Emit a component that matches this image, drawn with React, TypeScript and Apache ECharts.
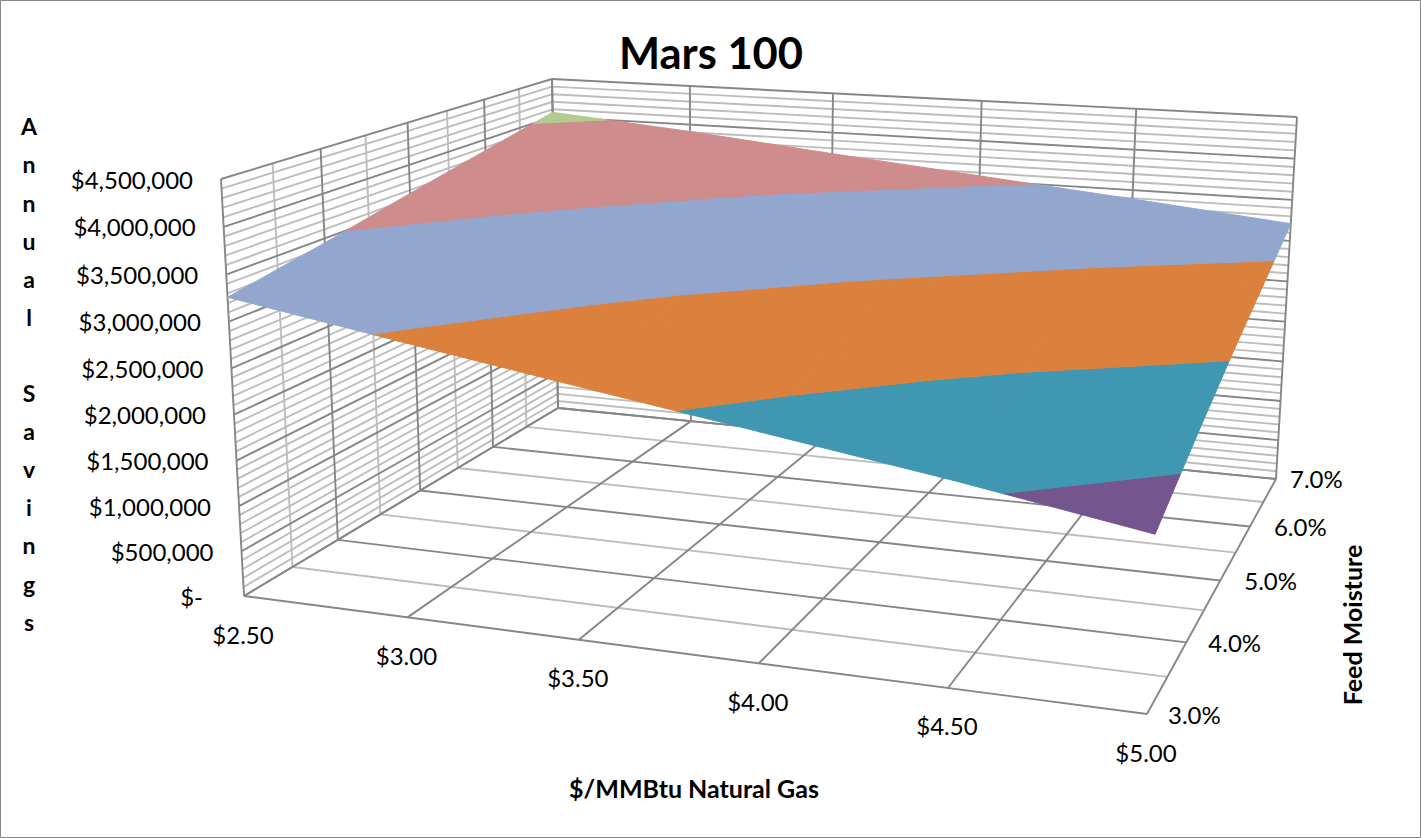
import React, { useEffect, useRef } from "react";
import * as echarts from "echarts";

const GAS_PRICES = [2.5, 3.0, 3.5, 4.0, 4.5, 5.0];
const GAS_LABELS = ["$2.50", "$3.00", "$3.50", "$4.00", "$4.50", "$5.00"];
const MOISTURE = [3, 4, 5, 6, 7];
const MOISTURE_LABELS = ["3.0%", "4.0%", "5.0%", "6.0%", "7.0%"];
const SAVINGS_TICKS = [0, 500000, 1000000, 1500000, 2000000, 2500000, 3000000, 3500000, 4000000, 4500000];
const SAVINGS_LABELS = ["$-", "$500,000", "$1,000,000", "$1,500,000", "$2,000,000", "$2,500,000", "$3,000,000", "$3,500,000", "$4,000,000", "$4,500,000"];
const SAVINGS_3PCT = [3260000, 2955000, 2660000, 2370000, 2080000, 1760000];
const SAVINGS_4PCT = [3450000, 3180000, 2905000, 2650000, 2400000, 2155000];
const SAVINGS_5PCT = [3660000, 3420000, 3170000, 2950000, 2730000, 2530000];
const SAVINGS_6PCT = [3860000, 3660000, 3450000, 3260000, 3060000, 2870000];
const SAVINGS_7PCT = [4060000, 3910000, 3730000, 3560000, 3390000, 3210000];
const SAVINGS = [SAVINGS_3PCT, SAVINGS_4PCT, SAVINGS_5PCT, SAVINGS_6PCT, SAVINGS_7PCT];
const BAND_COLORS = ["#92A6CE", "#CE8C8C", "#B3CB8F", "#74558E", "#4097B1", "#DB813D", "#92A6CE", "#CE8C8C", "#B3CB8F"];

const W = 1421;
const H = 838;
const Z_MAX = 4500000;
const Z_PERSPECTIVE = 0.04;
const MAJOR = "#868686";
const MINOR = "#BDBDBD";
const FONT = "Lato";

type P = [number, number];
function homography(p0: P, p1: P, p2: P, p3: P) {
  const dx1 = p1[0] - p2[0], dx2 = p3[0] - p2[0], sx = p0[0] - p1[0] + p2[0] - p3[0];
  const dy1 = p1[1] - p2[1], dy2 = p3[1] - p2[1], sy = p0[1] - p1[1] + p2[1] - p3[1];
  const den = dx1 * dy2 - dx2 * dy1;
  const g = (sx * dy2 - dx2 * sy) / den;
  const h = (dx1 * sy - sx * dy1) / den;
  const a = p1[0] - p0[0] + g * p1[0], b = p3[0] - p0[0] + h * p3[0];
  const d = p1[1] - p0[1] + g * p1[1], e = p3[1] - p0[1] + h * p3[1];
  return (s: number, t: number): P => {
    const w = g * s + h * t + 1;
    return [(a * s + b * t + p0[0]) / w, (d * s + e * t + p0[1]) / w];
  };
}
// Camera of the 3-D box: floor and ceiling of the plot box on screen.
const floorMap = homography([244, 596], [1147, 714], [1276, 479], [558, 408]);
const ceilMap = homography([221, 179], [1168, 243], [1297, 117], [552, 79]);
function project(gas: number, moist: number, z: number): P {
  const s = (gas - 2.5) / 2.5, t = (moist - 3) / 4, r = z / Z_MAX;
  const k = r / (1 + Z_PERSPECTIVE * (1 - r));
  const f = floorMap(s, t), c = ceilMap(s, t);
  return [f[0] + (c[0] - f[0]) * k, f[1] + (c[1] - f[1]) * k];
}

type V = [number, number, number];
function clip(poly: V[], level: number, keepAbove: boolean): V[] {
  const out: V[] = [];
  for (let i = 0; i < poly.length; i++) {
    const a = poly[i], b = poly[(i + 1) % poly.length];
    const ain = keepAbove ? a[2] >= level : a[2] <= level;
    const bin = keepAbove ? b[2] >= level : b[2] <= level;
    if (ain) out.push(a);
    if (ain !== bin) {
      const r = (level - a[2]) / (b[2] - a[2]);
      out.push([a[0] + (b[0] - a[0]) * r, a[1] + (b[1] - a[1]) * r, level]);
    }
  }
  return out;
}

// [gasFrom, moistFrom, zFrom, gasTo, moistTo, zTo, isMajor]
const gridSegments: number[][] = [];
const GAS_MIN = GAS_PRICES[0], GAS_END = GAS_PRICES[GAS_PRICES.length - 1];
const M_MIN = MOISTURE[0], M_END = MOISTURE[MOISTURE.length - 1];
for (let z = 0; z <= Z_MAX; z += 100000) {
  const major = z % 500000 === 0 ? 1 : 0;
  gridSegments.push([GAS_MIN, M_MIN, z, GAS_MIN, M_END, z, major]);
  gridSegments.push([GAS_MIN, M_END, z, GAS_END, M_END, z, major]);
}
for (let m = M_MIN; m <= M_END; m += 0.5) {
  const major = Number.isInteger(m) ? 1 : 0;
  gridSegments.push([GAS_MIN, m, 0, GAS_MIN, m, Z_MAX, major]);
  gridSegments.push([GAS_MIN, m, 0, GAS_END, m, 0, major]);
}
for (const g of GAS_PRICES) {
  gridSegments.push([g, M_END, 0, g, M_END, Z_MAX, 1]);
  gridSegments.push([g, M_MIN, 0, g, M_END, 0, 1]);
}
gridSegments.sort((a, b) => a[6] - b[6]);

const cells: number[][] = [];
for (let r = 0; r < MOISTURE.length - 1; r++) for (let c = 0; c < GAS_PRICES.length - 1; c++) cells.push([c, r]);

const MOIST_LABEL_DX = [21, 22, 24, 24, 14];
const MOIST_LABEL_DY = [0, 0, 0, 0, -1];

export default function App() {
  const ref = useRef<HTMLDivElement>(null);
  useEffect(() => {
    const chart = echarts.init(ref.current!, undefined, { renderer: "svg" });
    const labelFont = `24px ${FONT}`;
    const boldFont = `bold 25px ${FONT}`;
    chart.setOption({
      animation: false,
      backgroundColor: "#fff",
      title: {
        text: "Mars 100", left: 706, top: 25, textAlign: "center",
        textStyle: { fontFamily: FONT, fontWeight: "bold", fontSize: 43.5, color: "#000" },
      },
      grid: { left: 0, right: 0, top: 0, bottom: 0 },
      xAxis: { type: "value", min: 0, max: W, show: false },
      yAxis: { type: "value", min: 0, max: H, inverse: true, show: false },
      graphic: [
        { type: "rect", shape: { x: 0.5, y: 0.5, width: W - 1, height: H - 1 }, style: { fill: "none", stroke: MAJOR, lineWidth: 1 }, z: 0 },
        { type: "text", x: 29, y: 374, style: { text: "A\nn\nn\nu\na\nl\n \nS\na\nv\ni\nn\ng\ns", align: "center", verticalAlign: "middle", lineHeight: 38.1, font: `bold 23px ${FONT}`, fill: "#000" } },
        { type: "text", x: 694, y: 788, style: { text: "$/MMBtu Natural Gas", align: "center", verticalAlign: "middle", font: boldFont, fill: "#000" } },
        { type: "text", x: 1352, y: 625, rotation: Math.PI / 2, style: { text: "Feed Moisture", align: "center", verticalAlign: "middle", font: boldFont, fill: "#000" } },
      ],
      series: [
        {
          type: "custom", name: "grid", coordinateSystem: "cartesian2d", silent: true,
          data: gridSegments.map((_, i) => [i, 0]), encode: { x: 0, y: 1 },
          renderItem: (_: any, api: any) => {
            const sg = gridSegments[api.value(0)];
            const a = api.coord(project(sg[0], sg[1], sg[2]));
            const b = api.coord(project(sg[3], sg[4], sg[5]));
            return {
              type: "line",
              shape: { x1: a[0], y1: a[1], x2: b[0], y2: b[1] },
              style: { stroke: sg[6] ? MAJOR : MINOR, lineWidth: 1.9 },
            };
          },
        },
        {
          type: "custom", name: "surface", coordinateSystem: "cartesian2d", silent: true,
          data: cells, encode: { x: 0, y: 1 },
          renderItem: (_: any, api: any) => {
            const c = api.value(0), r = api.value(1);
            const corner = (ci: number, ri: number): V => [GAS_PRICES[ci], MOISTURE[ri], SAVINGS[ri][ci]];
            const q00 = corner(c, r), q10 = corner(c + 1, r), q11 = corner(c + 1, r + 1), q01 = corner(c, r + 1);
            const children: any[] = [];
            for (const tri of [[q00, q10, q11], [q00, q11, q01]] as V[][]) {
              BAND_COLORS.forEach((color, b) => {
                let poly = clip(tri, b * 500000, true);
                if (poly.length) poly = clip(poly, (b + 1) * 500000, false);
                if (poly.length < 3) return;
                children.push({
                  type: "polygon",
                  shape: { points: poly.map((v) => api.coord(project(v[0], v[1], v[2]))) },
                  style: { fill: color, stroke: color, lineWidth: 1 },
                });
              });
            }
            return { type: "group", children };
          },
        },
        {
          type: "custom", name: "savingsLabels", coordinateSystem: "cartesian2d", silent: true,
          data: SAVINGS_TICKS.map((_, i) => [i, 0]), encode: { x: 0, y: 1 },
          renderItem: (_: any, api: any) => {
            const i = api.value(0);
            const p = api.coord(project(GAS_MIN, M_MIN, SAVINGS_TICKS[i]));
            return { type: "text", style: { text: SAVINGS_LABELS[i], x: p[0] - (i === 0 ? 41 : 28), y: p[1], align: "right", verticalAlign: "middle", font: labelFont, fill: "#000" } };
          },
        },
        {
          type: "custom", name: "gasLabels", coordinateSystem: "cartesian2d", silent: true,
          data: GAS_PRICES.map((_, i) => [i, 0]), encode: { x: 0, y: 1 },
          renderItem: (_: any, api: any) => {
            const i = api.value(0);
            const p = api.coord(project(GAS_PRICES[i], M_MIN, 0));
            return { type: "text", style: { text: GAS_LABELS[i], x: p[0] - 1, y: p[1] + 38, align: "center", verticalAlign: "middle", font: labelFont, fill: "#000" } };
          },
        },
        {
          type: "custom", name: "moistureLabels", coordinateSystem: "cartesian2d", silent: true,
          data: MOISTURE.map((_, i) => [i, 0]), encode: { x: 0, y: 1 },
          renderItem: (_: any, api: any) => {
            const i = api.value(0);
            const p = api.coord(project(GAS_END, MOISTURE[i], 0));
            return { type: "text", style: { text: MOISTURE_LABELS[i], x: p[0] + MOIST_LABEL_DX[i], y: p[1] + MOIST_LABEL_DY[i], align: "left", verticalAlign: "middle", font: labelFont, fill: "#000" } };
          },
        },
      ],
    });
    return () => chart.dispose();
  }, []);
  return <div ref={ref} style={{ position: "fixed", left: 0, top: 0, width: W, height: H }} />;
}
